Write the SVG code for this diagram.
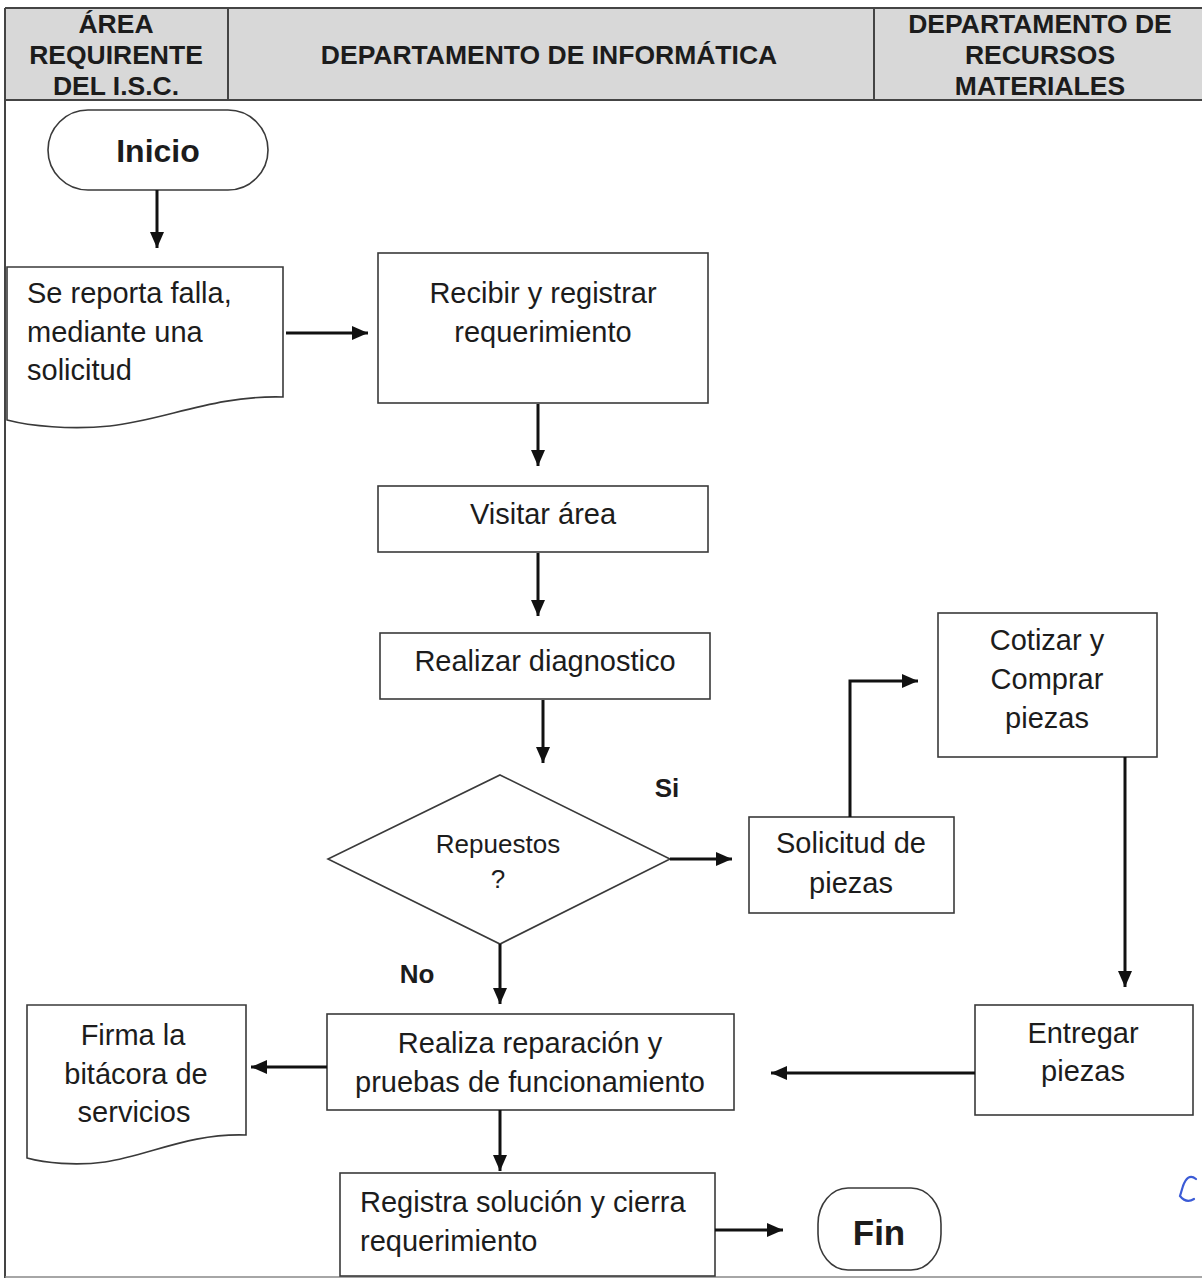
<svg xmlns="http://www.w3.org/2000/svg" width="1202" height="1278" viewBox="0 0 1202 1278">
  <defs>
    <marker id="arrow" viewBox="0 0 16 14" refX="16" refY="7" markerWidth="16" markerHeight="14" markerUnits="userSpaceOnUse" orient="auto">
      <path d="M0,0 L16,7 L0,14 Z" fill="#111"/>
    </marker>
  </defs>
  <style>
    .hdr { font-family: "Liberation Sans", Arial, sans-serif; font-weight: bold; font-size: 26.5px; fill: #1c1c1c; text-anchor: middle; }
    .txt { font-family: "Liberation Sans", Arial, sans-serif; font-size: 29px; fill: #1c1c1c; text-anchor: middle; }
    .lft { text-anchor: start; }
    .bold { font-weight: bold; }
    .box { fill: #ffffff; stroke: #3a3a3a; stroke-width: 1.6; }
    .frame { stroke: #444; stroke-width: 2; fill: none; }
    .conn { fill: none; stroke: #111; stroke-width: 3; marker-end: url(#arrow); }
  </style>

  <rect width="1202" height="1278" fill="#ffffff"/>

  <!-- header band with lane titles -->
  <g id="header">
    <rect x="5" y="8" width="1197" height="92" fill="#d8d8d8"/>
    <line class="frame" x1="5" y1="8" x2="1202" y2="8"/>
    <line class="frame" x1="5" y1="100" x2="1202" y2="100"/>
    <line class="frame" x1="228" y1="8" x2="228" y2="100"/>
    <line class="frame" x1="874" y1="8" x2="874" y2="100"/>
    <line class="frame" x1="5" y1="8" x2="5" y2="1278"/>
    <line stroke="#888" stroke-width="1.5" x1="5" y1="1277" x2="1202" y2="1277"/>
    <text class="hdr" x="116" y="33">ÁREA</text>
    <text class="hdr" x="116" y="64">REQUIRENTE</text>
    <text class="hdr" x="116" y="95">DEL I.S.C.</text>
    <text class="hdr" x="549" y="64">DEPARTAMENTO DE INFORMÁTICA</text>
    <text class="hdr" x="1040" y="33">DEPARTAMENTO DE</text>
    <text class="hdr" x="1040" y="64">RECURSOS</text>
    <text class="hdr" x="1040" y="95">MATERIALES</text>
  </g>

  <g id="inicio">
    <rect class="box" x="48" y="110" width="220" height="80" rx="40" ry="40"/>
    <text class="txt bold" x="158" y="162" style="font-size:32px">Inicio</text>
  </g>

  <g id="reporta-falla">
    <path class="box" d="M7,267 H283 V397 C215,395 165,420 110,426 C70,430 30,426 7,420 Z"/>
    <text class="txt lft" x="27" y="303">Se reporta falla,</text>
    <text class="txt lft" x="27" y="342">mediante una</text>
    <text class="txt lft" x="27" y="380">solicitud</text>
  </g>

  <g id="recibir">
    <rect class="box" x="378" y="253" width="330" height="150"/>
    <text class="txt" x="543" y="303">Recibir y registrar</text>
    <text class="txt" x="543" y="342">requerimiento</text>
  </g>

  <g id="visitar">
    <rect class="box" x="378" y="486" width="330" height="66"/>
    <text class="txt" x="543" y="524">Visitar área</text>
  </g>

  <g id="diagnostico">
    <rect class="box" x="380" y="633" width="330" height="66"/>
    <text class="txt" x="545" y="671">Realizar diagnostico</text>
  </g>

  <g id="repuestos">
    <polygon class="box" points="500,775 670,859 500,944 328,859"/>
    <text class="txt" x="498" y="853" style="font-size:26px">Repuestos</text>
    <text class="txt" x="498" y="888" style="font-size:26px">?</text>
  </g>

  <g id="solicitud">
    <rect class="box" x="749" y="817" width="205" height="96"/>
    <text class="txt" x="851" y="853">Solicitud de</text>
    <text class="txt" x="851" y="893">piezas</text>
  </g>

  <g id="cotizar">
    <rect class="box" x="938" y="613" width="219" height="144"/>
    <text class="txt" x="1047" y="650">Cotizar y</text>
    <text class="txt" x="1047" y="689">Comprar</text>
    <text class="txt" x="1047" y="728">piezas</text>
  </g>

  <g id="entregar">
    <rect class="box" x="975" y="1005" width="218" height="110"/>
    <text class="txt" x="1083" y="1043">Entregar</text>
    <text class="txt" x="1083" y="1081">piezas</text>
  </g>

  <g id="reparacion">
    <rect class="box" x="327" y="1014" width="407" height="96"/>
    <text class="txt" x="530" y="1053">Realiza reparación y</text>
    <text class="txt" x="530" y="1092">pruebas de funcionamiento</text>
  </g>

  <g id="bitacora">
    <path class="box" d="M27,1005 H246 V1135 C190,1133 150,1155 105,1162 C75,1166 45,1163 27,1158 Z"/>
    <text class="txt" x="133" y="1045">Firma la</text>
    <text class="txt" x="136" y="1084">bitácora de</text>
    <text class="txt" x="134" y="1122">servicios</text>
  </g>

  <g id="registra">
    <rect class="box" x="340" y="1173" width="375" height="103"/>
    <text class="txt lft" x="360" y="1212">Registra solución y cierra</text>
    <text class="txt lft" x="360" y="1251">requerimiento</text>
  </g>

  <g id="fin">
    <rect class="box" x="818" y="1188" width="123" height="82" rx="30" ry="36"/>
    <text class="txt bold" x="879" y="1245" style="font-size:35px">Fin</text>
  </g>

  <!-- branch labels -->
  <g id="labels">
    <text class="txt bold" x="667" y="797" style="font-size:26px">Si</text>
    <text class="txt bold" x="417" y="983" style="font-size:26px">No</text>
  </g>

  <g id="connectors">
    <path class="conn" d="M157,190 V248"/>
    <path class="conn" d="M286,333 H368"/>
    <path class="conn" d="M538,404 V466"/>
    <path class="conn" d="M538,553 V616"/>
    <path class="conn" d="M543,700 V763"/>
    <path class="conn" d="M670,859 H732"/>
    <path class="conn" d="M850,817 V681 H918"/>
    <path class="conn" d="M1125,757 V987"/>
    <path class="conn" d="M500,944 V1004"/>
    <path class="conn" d="M975,1073 H771"/>
    <path class="conn" d="M327,1067 H251"/>
    <path class="conn" d="M500,1110 V1171"/>
    <path class="conn" d="M715,1230 H783"/>
  </g>

  <!-- small pen stroke near the right margin -->
  <path d="M1196,1179 C1190,1174 1186,1178 1183,1186 L1180,1196 C1184,1201 1189,1202 1194,1199" fill="none" stroke="#3b5bd6" stroke-width="2.2" stroke-linecap="round"/>
</svg>
